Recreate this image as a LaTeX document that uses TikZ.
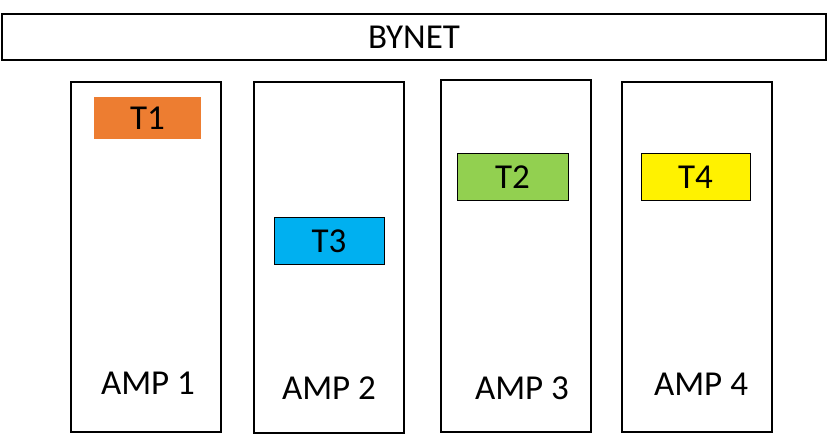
\documentclass[tikz,border=0pt]{standalone}
\usepackage{fontspec}
\setmainfont{Carlito}
\begin{document}
\begin{tikzpicture}[x=1pt,y=-1pt,
 box/.style={draw=black,line width=1.3pt,fill=white},
 tk/.style={draw=black,line width=1pt,font=\fontsize{35}{35}\selectfont,inner sep=0pt},
 lab/.style={font=\fontsize{35}{35}\selectfont}]
\useasboundingbox (0,0) rectangle (829,435);
\node[box,minimum width=824,minimum height=46,font=\fontsize{35}{35}\selectfont,inner sep=0pt] (bynet) at (414,37) {BYNET};
\node[box,minimum width=150,minimum height=350] (a1) at (146,257) {};
\node[box,minimum width=150,minimum height=351] (a2) at (329,257.5) {};
\node[box,minimum width=150,minimum height=352] (a3) at (516,256) {};
\node[box,minimum width=150,minimum height=350] (a4) at (697,257) {};
\node[tk,draw=none,fill={rgb,255:red,237;green,125;blue,49},minimum width=107,minimum height=42] (t1) at (147.5,118) {T1};
\node[tk,fill={rgb,255:red,0;green,176;blue,240},minimum width=110,minimum height=47] (t3) at (329,241.5) {T3};
\node[tk,fill={rgb,255:red,146;green,208;blue,80},minimum width=111,minimum height=47] (t2) at (512.5,177.5) {T2};
\node[tk,fill=yellow,minimum width=109,minimum height=47] (t4) at (695.5,177.5) {T4};
\node[lab] (l1) at (148,383) {AMP 1};
\node[lab] (l2) at (329,388) {AMP 2};
\node[lab] (l3) at (522,388) {AMP 3};
\node[lab] (l4) at (701,384) {AMP 4};
\end{tikzpicture}
\end{document}
